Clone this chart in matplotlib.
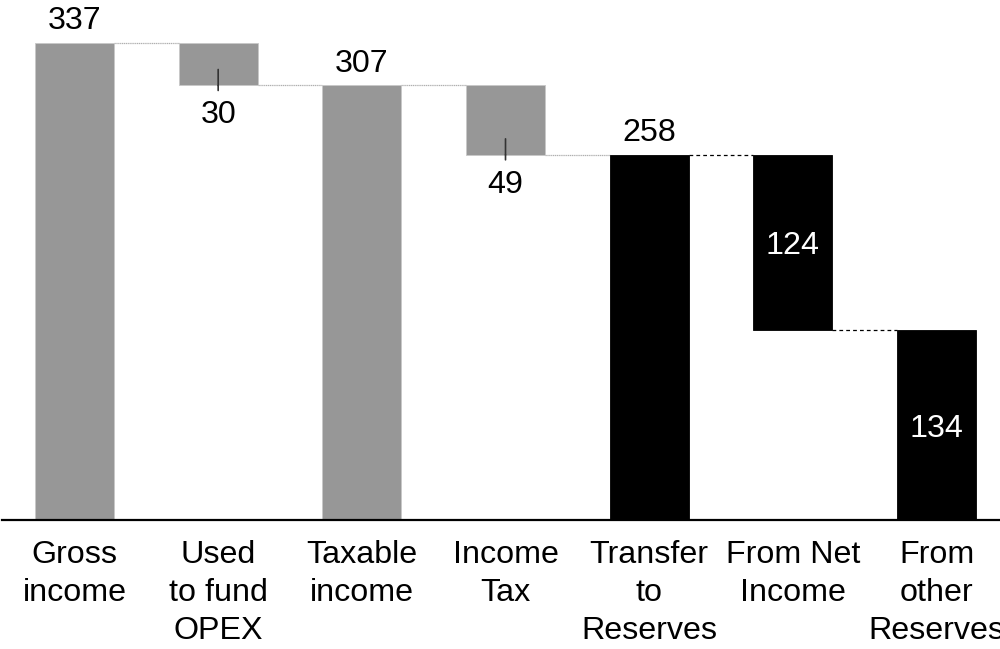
import matplotlib
matplotlib.use("Agg")
import matplotlib.pyplot as plt
from matplotlib.transforms import blended_transform_factory

plt.rcParams['font.family'] = ['Liberation Sans', 'DejaVu Sans']

# Waterfall data
categories = ["Gross\nincome", "Used\nto fund\nOPEX", "Taxable\nincome", "Income\nTax",
              "Transfer\nto\nReserves", "From Net\nIncome", "From\nother\nReserves"]
values = [337, 30, 307, 49, 258, 124, 134]
# bar kinds: total bars stand on the axis, step bars float
kinds = ["total", "down", "total", "down", "total", "part", "part"]

GRAY = "#979797"
BLACK = "#000000"
FS = 23.2

fig = plt.figure(figsize=(10, 6.49), dpi=100)
ax = fig.add_axes([0, 129 / 649, 1, 520 / 649])

# compute floating bar bottoms
bottoms = []
colors = []
level = 0
for i, (v, k) in enumerate(zip(values, kinds)):
    if k == "total":
        b = 0
        level = v
        colors.append(GRAY if i < 4 else BLACK)
    else:  # steps hang down from the running level
        b = level - v
        level = b
        colors.append(GRAY if k == "down" else BLACK)
    bottoms.append(b)

x = list(range(len(values)))
width = 0.55
ax.bar(x, values, width, bottom=bottoms, color=colors,
       edgecolor=["#c8c8c8" if c == GRAY else BLACK for c in colors],
       linewidth=0.6, zorder=2)

# connectors between neighbouring bars
for i in range(len(values) - 1):
    y = values[i] if kinds[i] == "total" else bottoms[i]
    if i >= 4:
        style = dict(color=BLACK, linestyle=(0, (3, 2.5)), linewidth=0.9)
    else:
        style = dict(color="#b0b0b0", linestyle=(0, (1, 0.5)), linewidth=0.9)
    ax.plot([x[i] + width / 2, x[i + 1] - width / 2], [y, y], zorder=1, **style)

# value labels
for i, (v, k) in enumerate(zip(values, kinds)):
    top = bottoms[i] + v
    if k == "total":
        ax.annotate(str(v), (x[i], top), xytext=(0, 15.5), textcoords="offset points",
                    ha="center", va="center", fontsize=FS, color=BLACK)
    elif k == "down":
        ax.annotate("", (x[i], bottoms[i]), xytext=(0, 11.5), textcoords="offset points",
                    arrowprops=dict(arrowstyle="-", color="#333333", lw=1.2,
                                    shrinkA=0, shrinkB=0))
        ax.annotate("", (x[i], bottoms[i]), xytext=(0, -3.6), textcoords="offset points",
                    arrowprops=dict(arrowstyle="-", color="#333333", lw=1.2,
                                    shrinkA=0, shrinkB=0))
        ax.annotate(str(v), (x[i], bottoms[i]), xytext=(0, -21.5), textcoords="offset points",
                    ha="center", va="center", fontsize=FS, color=BLACK)
    else:
        ax.annotate(str(v), (x[i], bottoms[i] + v / 2), xytext=(0, -2.5),
                    textcoords="offset points", ha="center", va="center",
                    fontsize=FS, color="white")

# category labels under the axis
trans = blended_transform_factory(ax.transData, ax.transAxes)
for i, c in enumerate(categories):
    ax.text(x[i], -0.039, c, transform=trans, ha="center", va="top",
            fontsize=FS, color=BLACK, linespacing=1.34)

ax.set_xlim(-74.5 / 143.67, (1000 - 74.5) / 143.67)
ax.set_ylim(0, 520 / 1.4154)
for s in ("top", "right", "left"):
    ax.spines[s].set_visible(False)
ax.spines["bottom"].set_linewidth(1.6)
ax.spines["bottom"].set_bounds(-72.5 / 143.67, (1000 - 74.5) / 143.67)
ax.set_xticks([])
ax.set_yticks([])
ax.patch.set_visible(False)

fig.savefig("out.png", dpi=100, facecolor="white")
